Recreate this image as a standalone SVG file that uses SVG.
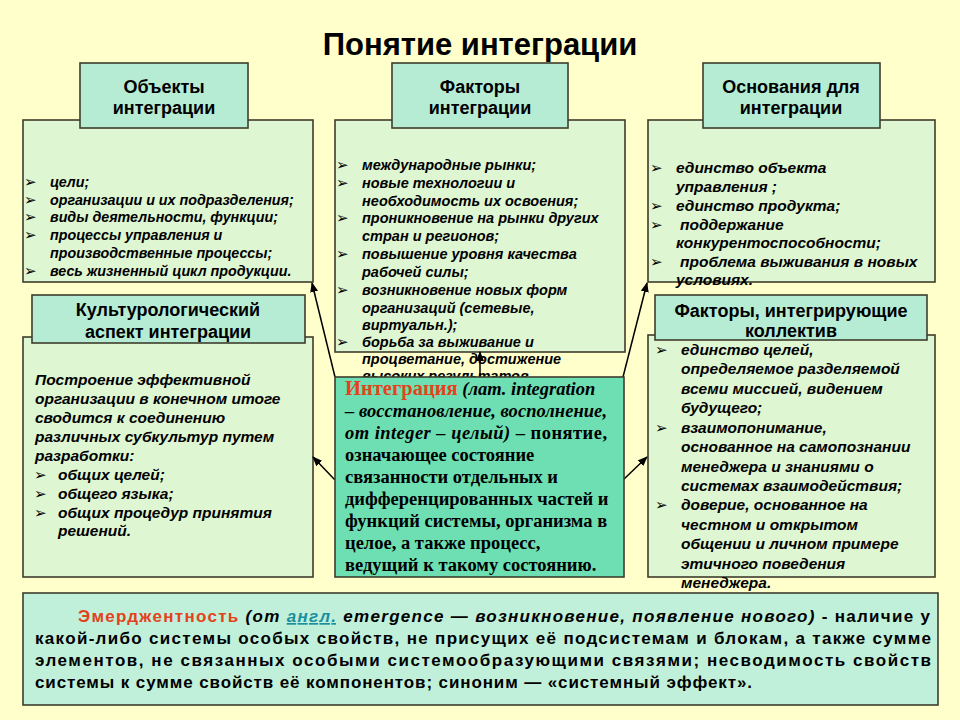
<svg xmlns="http://www.w3.org/2000/svg" width="960" height="720" viewBox="0 0 960 720">
<defs>
<style>
.bg{fill:#FFFFCC}
.body{fill:#DFF6D2;stroke:#3E3E2C;stroke-width:1.6}
.head{fill:#B6ECD4;stroke:#3E3E2C;stroke-width:1.6}
.center{fill:#6EDFB2;stroke:#3E3E2C;stroke-width:1.6}
.bottom{fill:#C0F0D9;stroke:#3E3E2C;stroke-width:1.6}
.title{font-family:"Liberation Sans",Arial,sans-serif;font-weight:bold;font-size:31px;text-anchor:middle;fill:#000}
.hdr{font-family:"Liberation Sans",Arial,sans-serif;font-weight:bold;font-size:18px;text-anchor:middle;fill:#000}
.t13{font-family:"Liberation Sans",Arial,sans-serif;font-weight:bold;font-style:italic;font-size:14.3px;fill:#000}
.t135{font-family:"Liberation Sans",Arial,sans-serif;font-weight:bold;font-style:italic;font-size:14.5px;fill:#000}
.t145{font-family:"Liberation Sans",Arial,sans-serif;font-weight:bold;font-style:italic;font-size:15.5px;fill:#000}
.bl{font-family:"DejaVu Sans",sans-serif;font-size:15px;fill:#000}
.tnr{font-family:"Liberation Serif","Times New Roman",serif;font-weight:bold;font-size:18.5px;fill:#000}
.btm{font-family:"Liberation Sans",Arial,sans-serif;font-weight:bold;font-size:17px;fill:#000}
.red{fill:#E3431C}
.i{font-style:italic}
.conn{stroke:#000;stroke-width:1.5;fill:none;marker-end:url(#ah)}
</style>
<marker id="ah" viewBox="0 0 10 8" refX="9" refY="4" markerWidth="10" markerHeight="8" markerUnits="userSpaceOnUse" orient="auto">
<path d="M0,0 L10,4 L0,8 Z" fill="#000"/>
</marker>
<clipPath id="clipTop"><rect x="330" y="115" width="300" height="262"/></clipPath>
</defs>
<rect class="bg" x="0" y="0" width="960" height="720"/>
<text class="title" x="480" y="55">Понятие интеграции</text>

<g id="objects">
<rect class="body" x="23" y="120" width="290" height="162"/>
<rect class="head" x="80" y="63" width="168" height="65"/>
<text class="hdr" x="164" y="93">Объекты</text>
<text class="hdr" x="164" y="114">интеграции</text>
<text class="bl" x="24" y="187">➢</text><text class="t13" x="50" y="187">цели;</text>
<text class="bl" x="24" y="205">➢</text><text class="t13" x="50" y="205">организации и их подразделения;</text>
<text class="bl" x="24" y="222">➢</text><text class="t13" x="50" y="222">виды деятельности, функции;</text>
<text class="bl" x="24" y="240">➢</text><text class="t13" x="50" y="240">процессы управления и</text>
<text class="t13" x="50" y="258">производственные процессы;</text>
<text class="bl" x="24" y="276">➢</text><text class="t13" x="50" y="276">весь жизненный цикл продукции.</text>
</g>

<g id="factors">
<rect class="body" x="335" y="120" width="290" height="232"/>
<rect class="head" x="392" y="63" width="176" height="65"/>
<text class="hdr" x="480" y="93">Факторы</text>
<text class="hdr" x="480" y="114">интеграции</text>
<g clip-path="url(#clipTop)">
<text class="bl" x="336" y="170">➢</text><text class="t135" x="362" y="170">международные рынки;</text>
<text class="bl" x="336" y="188">➢</text><text class="t135" x="362" y="188">новые технологии и</text>
<text class="t135" x="362" y="206">необходимость их освоения;</text>
<text class="bl" x="336" y="223">➢</text><text class="t135" x="362" y="223">проникновение на рынки других</text>
<text class="t135" x="362" y="241">стран и регионов;</text>
<text class="bl" x="336" y="259">➢</text><text class="t135" x="362" y="259">повышение уровня качества</text>
<text class="t135" x="362" y="277">рабочей силы;</text>
<text class="bl" x="336" y="295">➢</text><text class="t135" x="362" y="295">возникновение новых форм</text>
<text class="t135" x="362" y="313">организаций (сетевые,</text>
<text class="t135" x="362" y="330">виртуальн.);</text>
<text class="bl" x="336" y="347">➢</text><text class="t135" x="362" y="347">борьба за выживание и</text>
<text class="t135" x="362" y="364">процветание, достижение</text>
<text class="t135" x="362" y="381">высоких результатов</text>
</g>
</g>

<g id="grounds">
<rect class="body" x="648" y="120" width="287" height="162"/>
<rect class="head" x="703" y="63" width="177" height="65"/>
<text class="hdr" x="791" y="93">Основания для</text>
<text class="hdr" x="791" y="114">интеграции</text>
<text class="bl" x="650" y="173">➢</text><text class="t145" x="676" y="173">единство объекта</text>
<text class="t145" x="676" y="192">управления ;</text>
<text class="bl" x="650" y="211">➢</text><text class="t145" x="676" y="211">единство продукта;</text>
<text class="bl" x="650" y="230">➢</text><text class="t145" x="680" y="230">поддержание</text>
<text class="t145" x="676" y="248">конкурентоспособности;</text>
<text class="bl" x="650" y="267">➢</text><text class="t145" x="680" y="267">проблема выживания в новых</text>
<text class="t145" x="676" y="285">условиях.</text>
</g>

<g id="culture">
<rect class="body" x="23" y="337" width="290" height="240"/>
<rect class="head" x="32" y="295" width="273" height="48"/>
<text class="hdr" x="168" y="316">Культурологический</text>
<text class="hdr" x="168" y="338">аспект интеграции</text>
<text class="t145" x="35" y="385">Построение эффективной</text>
<text class="t145" x="35" y="404">организации в конечном итоге</text>
<text class="t145" x="35" y="423">сводится к соединению</text>
<text class="t145" x="35" y="442">различных субкультур путем</text>
<text class="t145" x="35" y="461">разработки:</text>
<text class="bl" x="34" y="480">➢</text><text class="t145" x="58" y="480">общих целей;</text>
<text class="bl" x="34" y="499">➢</text><text class="t145" x="58" y="499">общего языка;</text>
<text class="bl" x="34" y="518">➢</text><text class="t145" x="58" y="518">общих процедур принятия</text>
<text class="t145" x="58" y="536">решений.</text>
</g>

<g id="team">
<rect class="body" x="648" y="335" width="287" height="242"/>
<rect class="head" x="655" y="295" width="272" height="45"/>
<text class="hdr" x="791" y="317">Факторы, интегрирующие</text>
<text class="hdr" x="791" y="337">коллектив</text>
<text class="bl" x="655" y="355">➢</text><text class="t145" x="681" y="355">единство целей,</text>
<text class="t145" x="681" y="374">определяемое разделяемой</text>
<text class="t145" x="681" y="394">всеми миссией, видением</text>
<text class="t145" x="681" y="413">будущего;</text>
<text class="bl" x="655" y="433">➢</text><text class="t145" x="681" y="433">взаимопонимание,</text>
<text class="t145" x="681" y="452">основанное на самопознании</text>
<text class="t145" x="681" y="472">менеджера и знаниями о</text>
<text class="t145" x="681" y="491">системах взаимодействия;</text>
<text class="bl" x="655" y="510">➢</text><text class="t145" x="681" y="510">доверие, основанное на</text>
<text class="t145" x="681" y="530">честном и открытом</text>
<text class="t145" x="681" y="549">общении и личном примере</text>
<text class="t145" x="681" y="569">этичного поведения</text>
<text class="t145" x="681" y="588">менеджера.</text>
</g>

<g id="connectors">
<line class="conn" x1="335" y1="377" x2="312" y2="283"/>
<line class="conn" x1="623" y1="377" x2="647" y2="283"/>
<line class="conn" x1="335" y1="480" x2="313" y2="457"/>
<line class="conn" x1="623" y1="480" x2="647" y2="457"/>
<line class="conn" x1="480" y1="377" x2="480" y2="352"/>
</g>

<g id="integration">
<rect class="center" x="335" y="377" width="289" height="200"/>
<text class="tnr" x="345" y="395"><tspan class="red" font-size="20.5">Интеграция</tspan> <tspan class="i">(лат. integration</tspan></text>
<text class="tnr i" x="345" y="417" textLength="262" lengthAdjust="spacing">– восстановление, восполнение,</text>
<text class="tnr" x="345" y="439" textLength="262" lengthAdjust="spacing"><tspan class="i">от integer – целый)</tspan> – понятие,</text>
<text class="tnr" x="345" y="461">означающее состояние</text>
<text class="tnr" x="345" y="483">связанности отдельных и</text>
<text class="tnr" x="345" y="505">дифференцированных частей и</text>
<text class="tnr" x="345" y="527">функций системы, организма в</text>
<text class="tnr" x="345" y="549">целое, а также процесс,</text>
<text class="tnr" x="345" y="571">ведущий к такому состоянию.</text>
</g>

<g id="emergence">
<rect class="bottom" x="23" y="593" width="915" height="112"/>
<text class="btm" x="78" y="622" textLength="852" lengthAdjust="spacing"><tspan class="red">Эмерджентность</tspan> <tspan class="i">(от </tspan><tspan class="i" fill="#1A8FA0" text-decoration="underline">англ.</tspan><tspan class="i"> emergence — возникновение, появление нового)</tspan> - наличие у</text>
<text class="btm" x="35" y="644" textLength="896" lengthAdjust="spacing">какой-либо системы особых свойств, не присущих её подсистемам и блокам, а также сумме</text>
<text class="btm" x="35" y="666" textLength="896" lengthAdjust="spacing">элементов, не связанных особыми системообразующими связями; несводимость свойств</text>
<text class="btm" x="35" y="688" textLength="717" lengthAdjust="spacing">системы к сумме свойств её компонентов; синоним — «системный эффект».</text>
</g>
</svg>
